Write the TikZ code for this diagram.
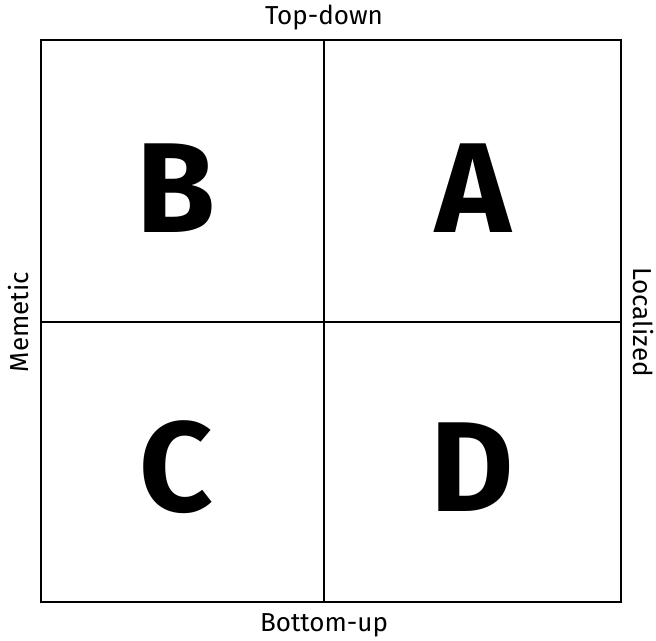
\documentclass[tikz,border=0pt]{standalone}
\usepackage{fontspec}
\setmainfont{Fira Sans}
\begin{document}
\begin{tikzpicture}[x=1pt,y=-1pt,
  axislabel/.style={font=\fontsize{26}{28}\selectfont, inner sep=0pt},
  bigletter/.style={font=\fontsize{128}{130}\selectfont\bfseries, inner sep=0pt},
  gridline/.style={line width=1.3pt}]
\useasboundingbox (0,0) rectangle (656,640);
\draw[gridline] (41,40) rectangle (621,602);
\coordinate (tm) at (324,40);
\coordinate (bm) at (324,602);
\coordinate (lm) at (41,322);
\coordinate (rm) at (621,322);
\draw[gridline] (tm) -- (bm);
\draw[gridline] (lm) -- (rm);
\node[bigletter] (B) at (176,188) {B};
\node[bigletter] (A) at (473,188) {A};
\node[bigletter] (C) at (176,467) {C};
\node[bigletter] (D) at (472,467) {D};
\node[axislabel] (top) at (324,18) {Top-down};
\node[axislabel] (bot) at (324,625) {Bottom-up};
\node[axislabel, rotate=90] (left) at (19,322) {Memetic};
\node[axislabel, rotate=-90] (right) at (643,322) {Localized};
\end{tikzpicture}
\end{document}
